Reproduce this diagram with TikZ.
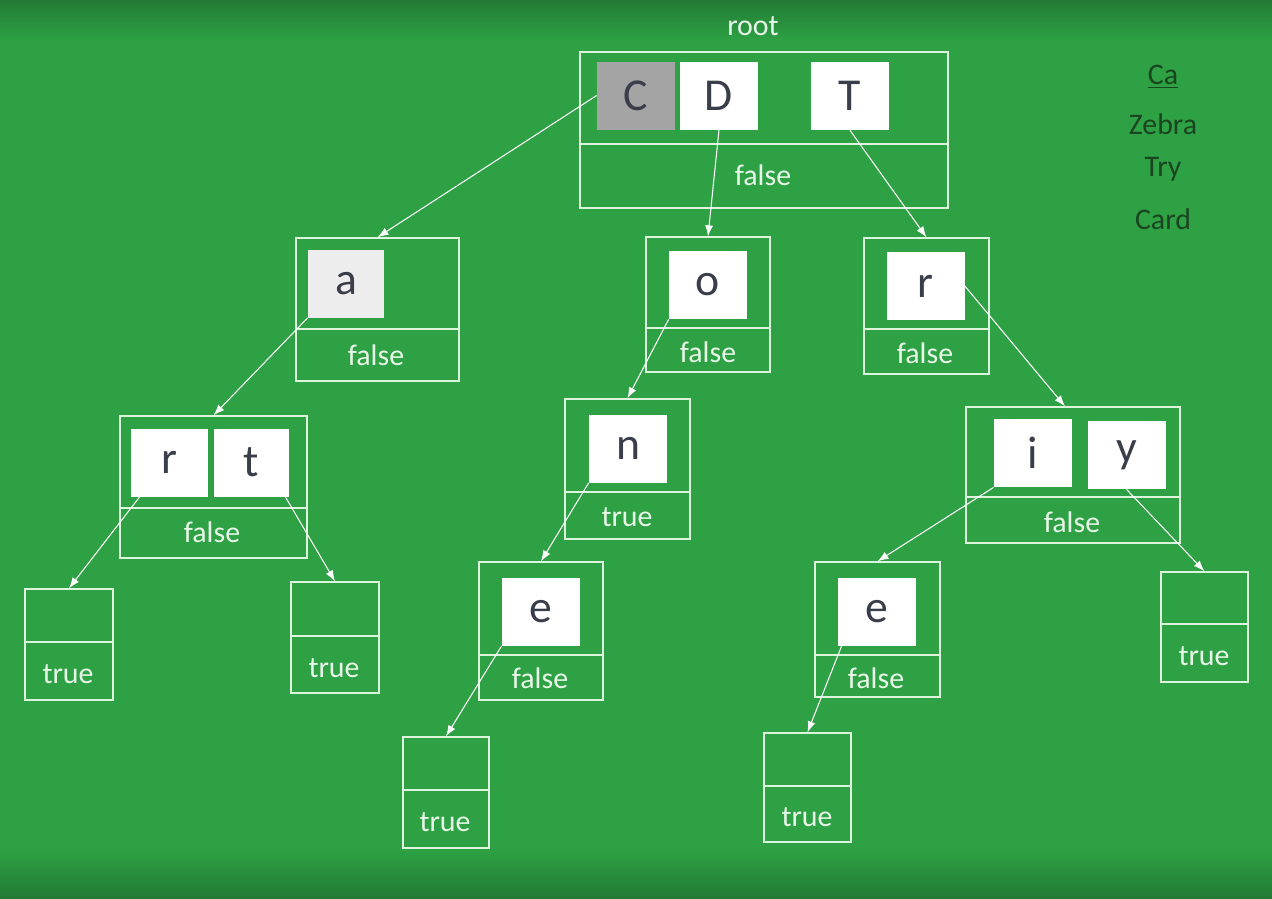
\documentclass[tikz,border=0pt]{standalone}
\usepackage{fontspec}
\setmainfont{Carlito}
\usepackage{tikz}
\usetikzlibrary{arrows.meta,positioning}
\definecolor{bggreen}{HTML}{2DA144}
\definecolor{bgdark}{HTML}{237A35}
\definecolor{cellline}{HTML}{DDF5DD}
\definecolor{labelink}{HTML}{E8F8E8}
\definecolor{letterink}{HTML}{3A3D4A}
\definecolor{wordink}{HTML}{1B4420}
\definecolor{markgray}{HTML}{A4A4A4}
\definecolor{lightgray}{HTML}{EDEDED}
\newcommand{\pxu}{0.02cm}

\begin{document}
\begin{tikzpicture}[
  x=0.02cm,y=-0.02cm,
  cell/.style={draw=cellline,line width=0.75pt,inner sep=0pt},
  letter/.style={fill=white,minimum width=78*\pxu,minimum height=68*\pxu,inner sep=0pt,
    text=letterink,font=\fontsize{26}{26}\selectfont},
  flag/.style={text=labelink,font=\fontsize{17}{17}\selectfont},
  word/.style={text=wordink,font=\fontsize{17}{17}\selectfont},
  divider/.style={draw=cellline,line width=0.75pt},
  arrow/.style={-{Latex[length=2.2mm,width=1.6mm]},draw=white,line width=0.6pt}
]
\fill[bggreen] (0,0) rectangle (1272,899);
\shade[top color=bgdark,bottom color=bggreen] (0,0) rectangle (1272,40);
\shade[top color=bggreen,bottom color=bgdark] (0,850) rectangle (1272,899);
\useasboundingbox (0,0) rectangle (1272,899);

\node[flag] (rootlbl) at (753,26) {root};
\node[cell,minimum width=368*\pxu,minimum height=156*\pxu] (root) at (764,130) {};
\node[cell,minimum width=163*\pxu,minimum height=143*\pxu] (na) at (377.5,309.5) {};
\node[cell,minimum width=124*\pxu,minimum height=135*\pxu] (no) at (708,304.5) {};
\node[cell,minimum width=125*\pxu,minimum height=136*\pxu] (nr) at (926.5,306) {};
\node[cell,minimum width=187*\pxu,minimum height=142*\pxu] (nrt) at (213.5,487) {};
\node[cell,minimum width=125*\pxu,minimum height=140*\pxu] (nn) at (627.5,469) {};
\node[cell,minimum width=214*\pxu,minimum height=136*\pxu] (niy) at (1073,475) {};
\node[cell,minimum width=88*\pxu,minimum height=111*\pxu] (lr) at (69,644.5) {};
\node[cell,minimum width=88*\pxu,minimum height=111*\pxu] (lt) at (335,637.5) {};
\node[cell,minimum width=124*\pxu,minimum height=138*\pxu] (ne) at (541,631) {};
\node[cell,minimum width=86*\pxu,minimum height=111*\pxu] (ld) at (446,792.5) {};
\node[cell,minimum width=125*\pxu,minimum height=135*\pxu] (nre) at (877.5,629.5) {};
\node[cell,minimum width=87*\pxu,minimum height=109*\pxu] (lte) at (807.5,787.5) {};
\node[cell,minimum width=87*\pxu,minimum height=110*\pxu] (ly) at (1204.5,627) {};

\foreach \n/\d in {root/144,na/329,no/328,nr/329,nrt/508,nn/492,niy/497,lr/642,lt/636,ne/655,ld/790,nre/655,lte/786,ly/624}
  \draw[divider] (\n.west |- 0,\d) -- (\n.east |- 0,\d);

\node[letter,fill=markgray] (C) at (636,95.5) {C};
\node[letter] (D) at (719,95.5) {D};
\node[letter] (T) at (850,96) {T};
\node[letter,fill=lightgray,minimum width=76*\pxu] (a) at (346,283.5) {a};
\node[letter] (o) at (708,285) {o};
\node[letter] (r1) at (925.5,286) {r};
\node[letter,minimum width=77*\pxu] (r2) at (169.5,462.5) {r};
\node[letter,minimum width=75*\pxu] (t) at (251.5,462.5) {t};
\node[letter] (n) at (628,448.5) {n};
\node[letter] (i) at (1033,453) {i};
\node[letter] (y) at (1126.5,455) {y};
\node[letter] (e1) at (541,611.5) {e};
\node[letter] (e2) at (877,611.5) {e};

\node[flag] (froot) at (763,175) {false};
\node[flag] (fa) at (376,355) {false};
\node[flag] (fo) at (708,352) {false};
\node[flag] (fr) at (925,353) {false};
\node[flag] (frt) at (212,532) {false};
\node[flag] (tn) at (627,517) {true};
\node[flag] (fiy) at (1072,522) {false};
\node[flag] (tr) at (68,674) {true};
\node[flag] (tt) at (334,668) {true};
\node[flag] (fe1) at (540,678) {false};
\node[flag] (td) at (445,822) {true};
\node[flag] (fe2) at (876,678) {false};
\node[flag] (tte) at (807,817) {true};
\node[flag] (ty) at (1204,656) {true};

\node[word] (w1) at (1163,77) {\underline{Ca}};
\node[word] (w2) at (1163,124) {Zebra};
\node[word] (w3) at (1163,169) {Try};
\node[word] (w4) at (1163,219) {Card};

\draw[arrow] (C.west) -- (na.north);
\draw[arrow] (D.south) -- (no.north);
\draw[arrow] (T.south) -- (nr.north);
\draw[arrow] (a.south west) -- (nrt.north);
\draw[arrow] (o.south west) -- (nn.north);
\draw[arrow] (r1.east) -- ([xshift=-8*\pxu]niy.north);
\draw[arrow] ([xshift=9*\pxu]r2.south west) -- (lr.north);
\draw[arrow] ([xshift=-4*\pxu]t.south east) -- (lt.north);
\draw[arrow] (n.south west) -- (ne.north);
\draw[arrow] (e1.south west) -- (ld.north);
\draw[arrow] (i.south west) -- (nre.north);
\draw[arrow] (y.south) -- (ly.north);
\draw[arrow] ([xshift=4*\pxu]e2.south west) -- (lte.north);
\end{tikzpicture}
\end{document}
